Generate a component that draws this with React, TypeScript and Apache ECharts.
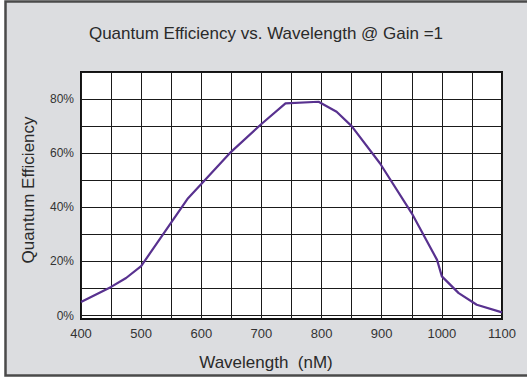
import React, { useEffect, useRef } from "react";
import * as echarts from "echarts";

const title = "Quantum Efficiency vs. Wavelength @ Gain =1";
const xName = "Wavelength  (nM)";
const yName = "Quantum Efficiency";
const wavelengths = [400, 450, 475, 500, 578, 600, 650, 700, 740, 795, 825, 850, 897, 950, 992, 1000, 1028, 1058, 1100];
const efficiency = [5.0, 10.6, 13.9, 18.3, 43.4, 48.6, 60.6, 70.8, 78.4, 79.0, 75.3, 70.0, 56.3, 37.8, 20.6, 14.5, 8.3, 4.0, 1.2];
const yLabelValues = [0, 20, 40, 60, 80];
const yGridValues = [0, 10, 20, 30, 40, 50, 60, 70, 80, 90];

const FONT = "Liberation Sans, Arial, sans-serif";

export default function App() {
  const ref = useRef<HTMLDivElement>(null);
  useEffect(() => {
    if (!ref.current) return;
    const chart = echarts.init(ref.current, null, { renderer: "svg" });
    const data = wavelengths.map((w, i) => [w, efficiency[i]]);
    chart.setOption({
      animation: false,
      backgroundColor: "#ffffff",
      textStyle: { fontFamily: FONT },
      graphic: [
        {
          type: "rect",
          z: -10,
          shape: { x: 5.5, y: 1.5, width: 530, height: 374 },
          style: { fill: "#dcdde0", stroke: "#4a4a4a", lineWidth: 2.5 },
        },
        {
          type: "text",
          x: 266,
          y: 362,
          style: { text: xName, fontSize: 17, fontFamily: FONT, fill: "#2a2a2a", align: "center", verticalAlign: "middle" },
        },
        {
          type: "text",
          x: 28,
          y: 190,
          rotation: Math.PI / 2,
          style: { text: yName, fontSize: 17, fontFamily: FONT, fill: "#2a2a2a", align: "center", verticalAlign: "middle" },
        },
        {
          type: "text",
          x: 266,
          y: 33,
          style: { text: title, fontSize: 17, fontFamily: FONT, fill: "#2a2a2a", align: "center", verticalAlign: "middle" },
        },
      ],
      grid: {
        left: 81,
        right: 25,
        top: 72,
        bottom: 58,
        show: true,
        backgroundColor: "#ffffff",
        borderColor: "#111111",
        borderWidth: 2,
        z: 0,
      },
      xAxis: {
        type: "value",
        min: 400,
        max: 1100,
        interval: 50,
        axisLine: { show: false },
        axisTick: { show: false },
        axisLabel: {
          color: "#333333",
          fontSize: 13,
          margin: 8,
          formatter: (v: number) => (v % 100 === 0 ? String(v) : ""),
        },
        splitLine: { show: true, lineStyle: { color: "#1a1a1a", width: 1 } },
      },
      yAxis: {
        type: "value",
        min: -1.25,
        max: 90,
        axisLine: { show: false },
        axisTick: { show: false, customValues: yGridValues },
        axisLabel: {
          color: "#333333",
          fontSize: 12,
          margin: 7,
          verticalAlign: "middle",
          padding: [0, 0, 4, 0],
          customValues: yLabelValues,
          formatter: (v: number) => `${Math.round(v)}%`,
        },
        splitLine: { show: true, lineStyle: { color: "#1a1a1a", width: 1 } },
      },
      series: [
        {
          type: "line",
          data,
          showSymbol: false,
          lineStyle: { color: "#58318f", width: 2.2 },
          z: 5,
        },
      ],
    });
    return () => chart.dispose();
  }, []);
  return <div ref={ref} style={{ position: "fixed", left: 0, top: 0, width: 527, height: 377 }} />;
}
